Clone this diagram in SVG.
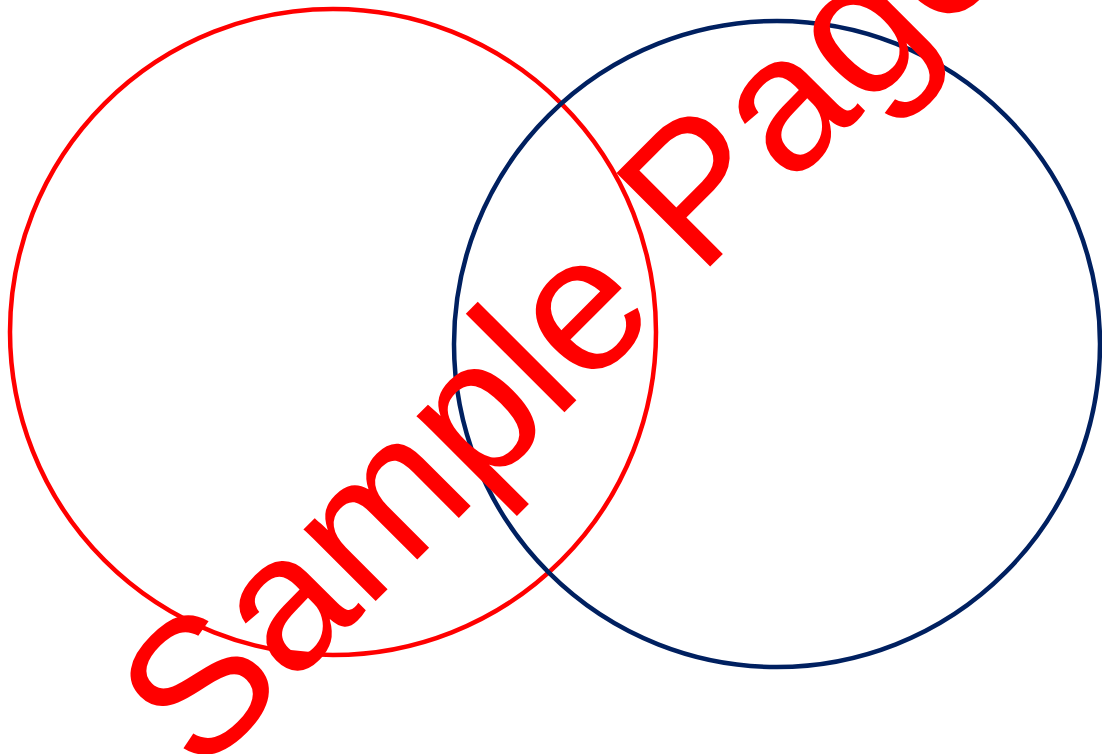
<svg xmlns="http://www.w3.org/2000/svg" width="1102" height="754" viewBox="0 0 1102 754">
<style>
.ring{fill:none;stroke-width:4.5}
.wm{font-family:"Liberation Sans",Arial,sans-serif;font-size:192.5px;fill:#ff0000}
</style>
<rect width="1102" height="754" fill="#ffffff"/>
<g id="circle-left"><circle class="ring" cx="333" cy="332" r="323" stroke="#ff0000"/></g>
<g id="circle-right"><circle class="ring" cx="777" cy="344" r="323" stroke="#002060"/></g>
<g id="watermark"><text class="wm" transform="translate(199.7,777) rotate(-45)">Sample Page</text></g>
</svg>
